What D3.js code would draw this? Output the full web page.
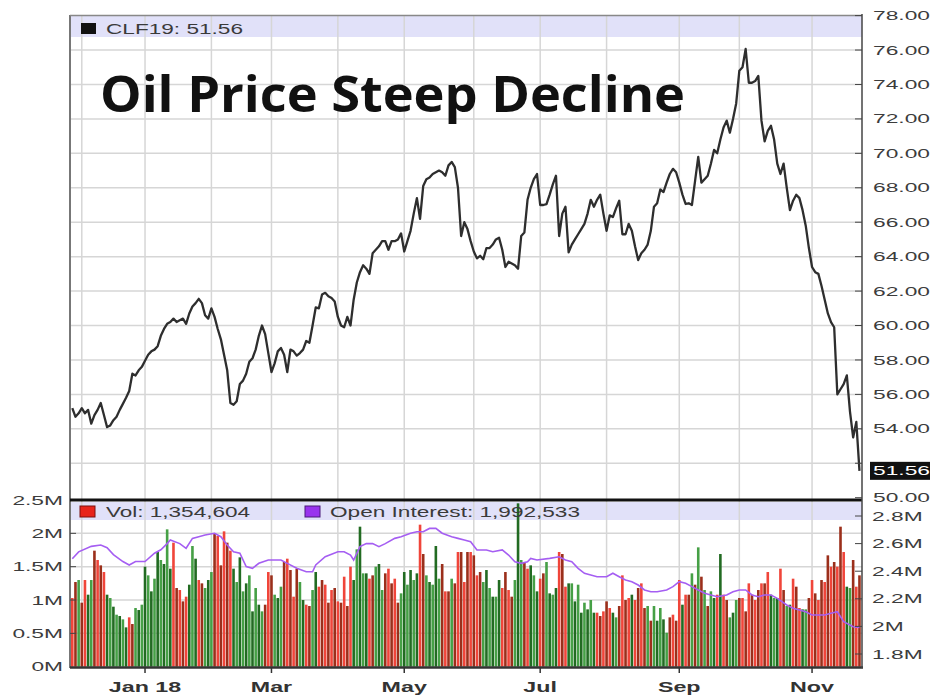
<!DOCTYPE html>
<meta charset="utf-8">
<style>
  body { margin: 0; background: #fff; }
  text { font-family: "Liberation Sans", Arial, sans-serif; }
</style>
<body>
<script src="https://cdn.jsdelivr.net/npm/d3@7/dist/d3.min.js"></script>
<script>
  // CLF19 daily close, one value per trading day (Nov 28 2017 .. Nov 23 2018)
  const price = [
    55.2, 54.7, 54.9, 55.2, 54.9, 55.1, 54.3, 54.8, 55.1, 55.5,
    54.8, 54.1, 54.2, 54.5, 54.7, 55.1, 55.45, 55.8, 56.2, 57.2,
    57.1, 57.4, 57.6, 57.95, 58.3, 58.5, 58.6, 58.8, 59.4, 59.8,
    60.1, 60.2, 60.4, 60.2, 60.3, 60.4, 60.1, 60.7, 61.1, 61.3,
    61.55, 61.3, 60.6, 60.4, 61.0, 60.5, 59.8, 59.2, 58.3, 57.4,
    55.5, 55.4, 55.6, 56.6, 56.8, 57.2, 57.9, 58.1, 58.6, 59.4,
    60.0, 59.5, 58.4, 57.3, 57.8, 58.5, 58.7, 58.3, 57.3, 58.6,
    58.5, 58.25, 58.4, 58.6, 59.1, 59.0, 60.0, 61.05, 61.0, 61.8,
    61.9, 61.7, 61.6, 61.4, 60.5, 60.0, 59.9, 60.5, 60.0, 61.5,
    62.5, 63.1, 63.5, 63.3, 63.0, 64.2, 64.4, 64.6, 64.9, 64.9,
    64.4, 64.9, 64.9, 65.0, 65.35, 64.3, 64.9, 65.5, 66.5, 67.4,
    66.2, 68.1, 68.5, 68.6, 68.8, 68.9, 69.0, 68.9, 68.7, 69.3,
    69.5, 69.2, 68.0, 65.2, 66.0, 65.6, 64.9, 64.3, 63.9, 64.05,
    63.85, 64.5, 64.5, 64.7, 65.0, 65.1, 64.4, 63.4, 63.7, 63.6,
    63.5, 63.3, 65.2, 65.4, 67.3, 68.0, 68.5, 68.8, 67.0, 67.0,
    67.05, 67.6, 68.2, 68.7, 65.2, 66.5, 66.9, 64.25, 64.7, 65.0,
    65.3, 65.6, 65.9, 66.5, 67.3, 66.9, 67.3, 67.6, 66.5, 65.5,
    66.4, 66.3, 66.8, 67.25, 65.3, 65.3, 65.9, 65.5, 64.6, 63.8,
    64.2, 64.4, 64.7, 65.5, 66.9, 67.1, 67.9, 67.75, 68.3, 68.8,
    69.1, 68.9, 68.3, 67.6, 67.06, 67.1, 67.0, 68.4, 69.8, 68.3,
    68.5, 68.7, 69.4, 70.2, 70.0, 70.8, 71.5, 71.9, 71.2, 72.0,
    72.9, 74.8, 75.0, 76.06, 74.1, 74.1, 74.2, 74.5, 71.9, 70.7,
    71.3, 71.6, 70.8, 69.4, 68.8, 69.4, 68.0, 66.7, 67.25, 67.6,
    67.4, 66.7, 65.8, 64.5, 63.4, 63.1, 63.0, 62.3, 61.5, 60.7,
    60.2, 59.9, 56.0, 56.3, 56.6, 57.1, 55.0, 53.5, 54.4, 51.56
  ];

  // daily volume in millions of contracts
  const volume = [
    1.03, 1.27, 1.30, 0.96, 1.30, 1.08, 1.30, 1.74, 1.60, 1.52,
    1.42, 1.08, 1.03, 0.90, 0.78, 0.76, 0.71, 0.59, 0.74, 0.64,
    0.88, 0.85, 0.93, 1.50, 1.37, 1.13, 1.32, 1.72, 1.60, 1.54,
    2.06, 1.47, 1.86, 1.18, 1.15, 0.98, 1.05, 1.23, 1.81, 1.62,
    1.30, 1.25, 1.18, 1.30, 1.42, 1.99, 1.96, 1.52, 2.03, 1.86,
    1.74, 1.47, 1.27, 1.64, 1.13, 1.25, 1.37, 0.83, 1.18, 0.93,
    0.83, 0.93, 1.42, 1.37, 1.08, 1.03, 1.20, 1.57, 1.62, 1.45,
    1.05, 1.47, 1.27, 1.00, 0.93, 0.91, 1.15, 1.42, 1.20, 1.30,
    1.23, 0.96, 1.15, 1.18, 0.98, 0.96, 1.35, 0.91, 1.50, 1.30,
    1.76, 2.10, 1.40, 1.40, 1.32, 1.37, 1.50, 1.54, 1.15, 1.40,
    1.47, 1.25, 1.32, 0.96, 1.10, 1.42, 1.23, 1.45, 1.30, 1.40,
    2.13, 1.69, 1.37, 1.27, 1.23, 1.81, 1.32, 1.54, 1.13, 1.13,
    1.32, 1.25, 1.72, 1.72,
    1.27, 1.72, 1.72, 1.67, 1.37, 1.42, 1.27, 1.45, 1.18, 1.05,
    1.05, 1.30, 1.18, 1.42, 1.15, 1.05, 1.30, 2.45, 1.60, 1.57,
    1.47, 1.52, 1.37, 1.13, 1.32, 1.40, 1.57, 1.10, 1.08, 1.18,
    1.72, 1.69, 1.20, 1.25, 1.25, 0.98, 1.23, 0.81, 0.96, 0.86,
    1.00, 0.81, 0.81, 0.76, 0.83, 0.98, 0.88, 0.81, 0.74, 0.91,
    1.37, 1.00, 1.03, 1.08, 1.00, 1.18, 1.25, 0.88, 0.91, 0.69,
    0.91, 0.69, 0.88, 0.71, 0.51, 0.74, 0.78, 0.69, 1.30, 0.93,
    1.08, 1.08, 1.40, 1.23, 1.79, 1.35, 1.15, 0.91, 1.13, 1.03,
    1.08, 1.69, 1.08, 1.00, 0.74, 0.81, 1.00, 1.03, 1.03, 0.83,
    1.25, 1.08, 1.00, 1.15, 1.25, 1.25, 1.42, 1.08, 1.03, 1.03,
    1.47, 1.15, 0.91, 0.93, 1.32, 1.20, 0.88, 0.86, 0.86, 1.03,
    1.30, 1.10, 1.00, 1.30, 1.27, 1.67, 1.50, 1.57, 1.50, 2.10,
    1.72, 1.20, 1.18, 1.60, 1.20, 1.37
  ];

  // bar colour read per day: u = up (green), d = down (red)
  const volDir = (
    "ddudduuddd" + "duuuuuuudd" + "uuuuuuuuuu" + "uuddddduuu" + "dduuuddddd" +
    "duuuuuuuuu" + "uddduuuddd" + "dduudduudd" + "dddddddddu" + "uuuudduuud" +
    "dddduuuuuu" + "dduuuuuddd" + "uddd" +
    "dddddduuuu" + "uudddduuud" + "duuudduuuu" + "ddduuuuuuu" + "uuddddduud" +
    "ddduddddud" + "uuuuuddddu" + "ddudududuu" + "dudduuuddd" + "ddddddduuu" +
    "dduuddduud" + "dddddddddd" + "duuddd"
  ).split('');

  // open interest in millions, read at these trading-day positions
  const oiDay = [0, 2, 6, 9, 11, 13, 16, 18, 20, 23, 26, 28, 30, 31, 34, 36, 38, 40, 42, 45,
    47, 49, 51, 53, 55, 57, 59, 62, 66, 68, 71, 74, 76, 77, 80, 84, 86, 88, 89, 91,
    93, 95, 97, 99, 102, 104, 107, 109, 111, 113, 115, 117, 120, 122, 124, 126, 128, 131, 133, 136,
    138, 140, 142, 144, 145, 147, 151, 154, 156, 158, 160, 162, 164, 166, 169, 171, 173, 175, 177, 179,
    181, 183, 185, 188, 190, 192, 194, 196, 198, 200, 202, 204, 207, 209, 211, 213, 215, 217, 219, 221,
    223, 226, 228, 230, 232, 234, 236, 238, 240, 242, 244, 247, 249];
  const oiValue = [2.49, 2.54, 2.58, 2.59, 2.57, 2.52, 2.47, 2.445, 2.47, 2.47, 2.53, 2.555, 2.60, 2.626, 2.60, 2.566, 2.638, 2.65, 2.662, 2.675,
    2.65, 2.59, 2.541, 2.53, 2.433, 2.421, 2.457, 2.481, 2.481, 2.457, 2.421, 2.396, 2.396, 2.445, 2.505, 2.541, 2.541, 2.517, 2.481, 2.578,
    2.60, 2.60, 2.578, 2.60, 2.638, 2.65, 2.675, 2.686, 2.686, 2.71, 2.71, 2.675, 2.65, 2.638, 2.626, 2.614, 2.554, 2.554, 2.541, 2.554,
    2.517, 2.469, 2.457, 2.469, 2.493, 2.481, 2.493, 2.505, 2.481, 2.469, 2.421, 2.385, 2.372, 2.36, 2.36, 2.385, 2.36, 2.336, 2.324, 2.30,
    2.264, 2.251, 2.251, 2.264, 2.288, 2.324, 2.312, 2.288, 2.264, 2.24, 2.228, 2.215, 2.228, 2.251, 2.264, 2.264, 2.228, 2.215, 2.228, 2.228,
    2.203, 2.155, 2.131, 2.119, 2.106, 2.083, 2.083, 2.083, 2.095, 2.106, 2.034, 1.998, 1.993];

  const symbol = 'CLF19';
  const lastVol = 1354604, lastOI = 1992533;
  const priceTicks = d3.range(50, 79, 2);
  const volTicks = [0, 0.5, 1, 1.5, 2, 2.5];
  const oiTicks = [1.8, 2.0, 2.2, 2.4, 2.6, 2.8];
  const monthNames = ['Jan 18', 'Feb', 'Mar', 'Apr', 'May', 'Jun', 'Jul', 'Aug', 'Sep', 'Oct', 'Nov', 'Dec'];
  const labelMonths = [0, 2, 4, 6, 8, 10];
  const holidays = ['2017-12-25', '2018-01-01', '2018-01-15', '2018-02-19', '2018-03-30',
    '2018-05-28', '2018-07-04', '2018-09-03', '2018-11-22'];

  // trading days
  const days = [];
  for (let d = new Date(Date.UTC(2017, 10, 28)); d <= new Date(Date.UTC(2018, 10, 23)); d.setUTCDate(d.getUTCDate() + 1)) {
    const wd = d.getUTCDay();
    if (wd > 0 && wd < 6 && !holidays.includes(d.toISOString().slice(0, 10))) days.push(new Date(d));
  }
  const monthStarts = days.map((d, i) => i).filter(i => i > 0 && days[i].getUTCMonth() != days[i - 1].getUTCMonth());

  const L = 70, R = 862;
  const x = d3.scaleLinear().domain([-0.73, 249.8]).range([L, R]);
  const yP = d3.scaleLinear().domain([50, 78]).range([497.7, 15.6]);
  const yV = d3.scaleLinear().domain([0, 2.5]).range([666.7, 500]);
  const yO = d3.scaleLinear().domain([1.8, 2.8]).range([654, 516]);

  const svg = d3.select('body').append('svg').attr('width', 935).attr('height', 698);

  // stretch text horizontally like the source picture
  const stretch = (sel, k) => sel.each(function () {
    this.setAttribute('textLength', this.getComputedTextLength() * k);
    this.setAttribute('lengthAdjust', 'spacingAndGlyphs');
  });

  // legend bands
  svg.append('rect').attr('x', L).attr('y', 16).attr('width', R - L).attr('height', 21).attr('fill', '#e1e1f9');
  svg.append('rect').attr('x', L).attr('y', 502).attr('width', R - L).attr('height', 18).attr('fill', '#e1e1f9');

  // grid
  const grid = svg.append('g').attr('stroke', '#d6d6d6').attr('stroke-width', 1.5);
  grid.selectAll('.vg').data(monthStarts).join('line')
    .attr('x1', d => x(d)).attr('x2', d => x(d)).attr('y1', 16).attr('y2', 667);
  grid.selectAll('.hp').data(priceTicks.slice(1, -1)).join('line').attr('class', 'hp')
    .attr('x1', L).attr('x2', R).attr('y1', d => yP(d)).attr('y2', d => yP(d));
  grid.selectAll('.hv').data(volTicks.slice(1, -1)).join('line').attr('class', 'hv')
    .attr('x1', L).attr('x2', R).attr('y1', d => yV(d)).attr('y2', d => yV(d));

  // title
  svg.append('text').attr('x', 100).attr('y', 112)
    .style('font-family', '"Open Sans", sans-serif').style('font-weight', 700).style('font-size', '50px')
    .attr('fill', '#111').attr('textLength', 585).attr('lengthAdjust', 'spacingAndGlyphs')
    .text('Oil Price Steep Decline');

  // price line
  svg.append('path').datum(price)
    .attr('fill', 'none').attr('stroke', '#2e2e2e').attr('stroke-width', 2.3).attr('stroke-linejoin', 'round')
    .attr('d', d3.line().x((d, i) => x(i)).y(d => yP(d)));

  // legend texts
  svg.append('rect').attr('x', 81).attr('y', 23).attr('width', 15).attr('height', 11).attr('fill', '#111');
  svg.append('text').attr('x', 106).attr('y', 34).attr('font-size', 15).attr('fill', '#3a3a3a')
    .attr('textLength', 137).attr('lengthAdjust', 'spacingAndGlyphs')
    .text(`${symbol}: ${d3.format('.2f')(price[price.length - 1])}`);

  // volume bars
  const colors = { u: ['#46a046', '#226b22'], d: ['#f0453a', '#9b2f1b'] };
  svg.append('g').selectAll('rect').data(volume).join('rect')
    .attr('x', (d, i) => x(i) - 1.3).attr('width', 2.6)
    .attr('y', d => yV(d)).attr('height', d => yV(0) - yV(d))
    .attr('fill', (d, i) => colors[volDir[i]][i % 2]);

  // open interest
  svg.append('path').datum(oiValue)
    .attr('fill', 'none').attr('stroke', '#a55ef2').attr('stroke-width', 1.6)
    .attr('d', d3.line().x((d, i) => x(oiDay[i])).y(d => yO(d)));

  svg.append('rect').attr('x', 80).attr('y', 506).attr('width', 15).attr('height', 11)
    .attr('fill', '#e8241c').attr('stroke', '#7a1010');
  svg.append('text').attr('x', 106).attr('y', 517).attr('font-size', 15).attr('fill', '#3a3a3a')
    .attr('textLength', 144).attr('lengthAdjust', 'spacingAndGlyphs')
    .text(`Vol: ${d3.format(',')(lastVol)}`);
  svg.append('rect').attr('x', 305).attr('y', 506).attr('width', 15).attr('height', 11)
    .attr('fill', '#9933ee').attr('stroke', '#4a1a7a');
  svg.append('text').attr('x', 330).attr('y', 517).attr('font-size', 15).attr('fill', '#3a3a3a')
    .attr('textLength', 250).attr('lengthAdjust', 'spacingAndGlyphs')
    .text(`Open Interest: ${d3.format(',')(lastOI)}`);

  // frame
  svg.append('line').attr('x1', L).attr('x2', L).attr('y1', 15).attr('y2', 668).attr('stroke', '#777').attr('stroke-width', 2);
  svg.append('line').attr('x1', L).attr('x2', R).attr('y1', 15.6).attr('y2', 15.6).attr('stroke', '#888').attr('stroke-width', 1.5);
  svg.append('line').attr('x1', L).attr('x2', R).attr('y1', 500).attr('y2', 500).attr('stroke', '#111').attr('stroke-width', 3);
  svg.append('line').attr('x1', L).attr('x2', R + 1).attr('y1', 667.5).attr('y2', 667.5).attr('stroke', '#333').attr('stroke-width', 2.5);
  svg.append('line').attr('x1', R).attr('x2', R).attr('y1', 14).attr('y2', 668).attr('stroke', '#444').attr('stroke-width', 1.5);

  // right price axis
  const lastY = yP(price[price.length - 1]);
  const pAxis = svg.append('g');
  pAxis.selectAll('line').data(priceTicks).join('line')
    .attr('x1', R - 7).attr('x2', R).attr('y1', d => yP(d)).attr('y2', d => yP(d)).attr('stroke', '#444');
  pAxis.selectAll('text').data(priceTicks.filter(d => Math.abs(yP(d) - lastY) > 14)).join('text')
    .attr('x', 873).attr('y', d => yP(d)).attr('dy', '0.35em').attr('font-size', 13).attr('fill', '#3c3c3c')
    .text(d => d3.format('.2f')(d)).call(stretch, 1.75);
  svg.append('rect').attr('x', 870).attr('y', lastY - 9).attr('width', 60).attr('height', 18).attr('fill', '#111');
  svg.append('text').attr('x', 873).attr('y', lastY).attr('dy', '0.35em').attr('font-size', 13).attr('fill', '#fff')
    .text(d3.format('.2f')(price[price.length - 1])).call(stretch, 1.75);

  // left volume axis
  svg.append('g').selectAll('text').data(volTicks).join('text')
    .attr('x', 63).attr('y', d => yV(d)).attr('dy', '0.35em').attr('text-anchor', 'end')
    .attr('font-size', 13).attr('fill', '#3c3c3c').text(d => `${d}M`).call(stretch, 1.75);
  svg.append('g').selectAll('line').data(volTicks.slice(1, -1)).join('line')
    .attr('x1', L).attr('x2', L + 6).attr('y1', d => yV(d)).attr('y2', d => yV(d)).attr('stroke', '#444');

  // right open interest axis
  const oAxis = svg.append('g');
  oAxis.selectAll('line').data(oiTicks).join('line')
    .attr('x1', R - 7).attr('x2', R).attr('y1', d => yO(d)).attr('y2', d => yO(d)).attr('stroke', '#444');
  oAxis.selectAll('text').data(oiTicks).join('text')
    .attr('x', 872).attr('y', d => yO(d)).attr('dy', '0.35em').attr('font-size', 13).attr('fill', '#3c3c3c')
    .text(d => `${d3.format('.1f')(d).replace('.0', '')}M`).call(stretch, 1.75);

  // month axis
  const labelled = monthStarts.filter(i => labelMonths.includes(days[i].getUTCMonth()) && days[i].getUTCFullYear() == 2018);
  svg.append('g').selectAll('line').data(labelled).join('line')
    .attr('x1', d => x(d)).attr('x2', d => x(d)).attr('y1', 668).attr('y2', 673).attr('stroke', '#333').attr('stroke-width', 1.5);
  svg.append('g').selectAll('text').data(labelled).join('text')
    .attr('x', d => x(d)).attr('y', 692).attr('text-anchor', 'middle')
    .attr('font-size', 15).attr('font-weight', 'bold').attr('fill', '#333')
    .text(d => monthNames[days[d].getUTCMonth()]).call(stretch, 1.55);
</script>
</body>
